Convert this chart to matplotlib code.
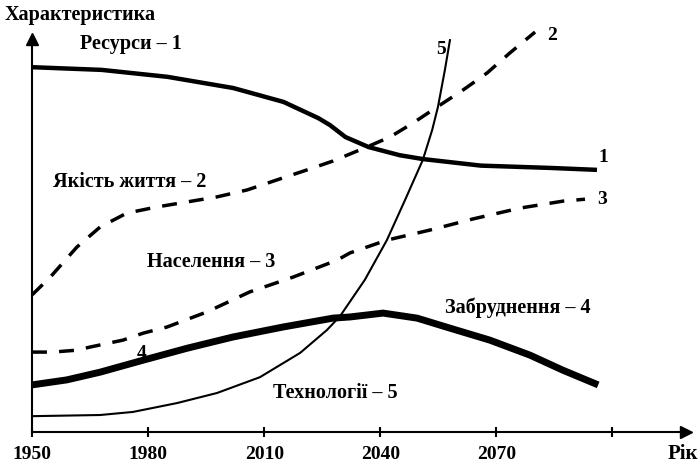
import numpy as np
import matplotlib
matplotlib.use("Agg")
import matplotlib.pyplot as plt

plt.rcParams["font.family"] = ["Liberation Serif", "DejaVu Serif"]

# ---- curves (year, characteristic in arbitrary units) ----
res_years = [1950, 1968, 1985, 2002, 2015, 2024, 2027, 2031, 2037, 2045, 2051, 2066, 2084, 2096]
res_vals = [92.7, 92.0, 90.2, 87.3, 83.7, 79.5, 77.7, 74.6, 72.0, 69.9, 68.9, 67.2, 66.6, 66.1]

life_years = [1950, 1954.7, 1961.6, 1967.6, 1974.5, 1982.3, 1990.1, 1997.8, 2005.6, 2013.3,
              2021.1, 2027.8, 2036.0, 2042.5, 2048.4, 2054.7, 2061.4, 2067.6, 2073.5, 2080.0]
life_vals = [33.7, 38.3, 46.1, 51.3, 54.9, 56.5, 57.8, 59.1, 60.9, 63.5,
             66.1, 68.4, 71.8, 74.6, 78.2, 82.4, 86.8, 91.2, 96.4, 101.8]

pop_years = [1950, 1955.4, 1961.6, 1965.0, 1973.5, 1978.7, 1984.9, 1995.2, 2006.3, 2017.4,
             2028.8, 2032.2, 2041.7, 2052.8, 2064.0, 2076.1, 2087.2, 2092.9]
pop_vals = [18.9, 18.9, 19.4, 20.2, 22.0, 23.8, 25.4, 29.3, 34.5, 38.3,
            42.7, 44.6, 47.9, 50.5, 53.4, 56.2, 58.0, 58.5]

pol_years = [1950, 1959.0, 1967.6, 1978.7, 1990.1, 2001.9, 2014.9, 2027.8, 2032.2, 2040.7,
             2049.5, 2058.0, 2068.3, 2078.7, 2087.2, 2096.3]
pol_vals = [10.4, 11.7, 13.7, 16.8, 19.9, 22.8, 25.4, 27.7, 28.0, 29.0,
            27.7, 25.1, 22.0, 18.1, 14.2, 10.4]

tech_years = [1950, 1967.6, 1976.1, 1987.5, 1997.8, 2008.9, 2019.3, 2026.2, 2029.6, 2036.0,
              2041.7, 2046.4, 2051.0, 2053.4, 2054.9, 2056.7, 2058.0]
tech_vals = [2.3, 2.6, 3.4, 5.7, 8.3, 12.4, 18.7, 24.6, 28.2, 37.6,
             47.9, 58.3, 68.7, 76.4, 82.4, 92.0, 99.7]

tick_years = [1950, 1980, 2010, 2040, 2070, 2100]
tick_labels = ["1950", "1980", "2010", "2040", "2070", ""]

fig = plt.figure(figsize=(6.98, 4.66), dpi=100)
# axes from x=32..686 px, y=39..432 px (from top)
ax = fig.add_axes([32 / 698, 34 / 466, 654 / 698, 393 / 466])
ax.set_xlim(1950, 2119)
ax.set_ylim(-1.8, 100)

line_kw = dict(color="k", clip_on=False, solid_joinstyle="round", dash_joinstyle="round")
ax.plot(res_years, res_vals, lw=3.2, solid_capstyle="butt", **line_kw)
ax.plot(life_years, life_vals, lw=2.5, dashes=(4.3, 3.5), **line_kw)
ax.plot(pop_years, pop_vals, lw=2.5, dashes=(4.3, 3.5), **line_kw)
ax.plot(pol_years, pol_vals, lw=5, solid_capstyle="butt", **line_kw)
ax.plot(tech_years, tech_vals, lw=1.5, **line_kw)

for s in ["top", "right"]:
    ax.spines[s].set_visible(False)
for s in ["left", "bottom"]:
    ax.spines[s].set_linewidth(1.5)
ax.plot(1, 0, ">k", ms=9, transform=ax.transAxes, clip_on=False)
ax.plot(0, 1, "^k", ms=9, transform=ax.transAxes, clip_on=False)

ax.set_yticks([])
ax.set_xticks(tick_years)
ax.set_xticklabels(tick_labels, fontsize=14, fontweight="bold")
ax.tick_params(axis="x", direction="inout", length=7, width=1.5, pad=6.5)

# text labels
fig.text(5 / 698, 1 - 15 / 466, "Характеристика", fontsize=14.5, fontweight="bold",
         va="center", ha="left")
fig.text(1, 1 - 454 / 466, "Рік", fontsize=15, fontweight="bold", va="center", ha="right")

kw = dict(fontsize=14.5, fontweight="bold", va="center", ha="left")
ax.text(1962.5, 98.8, "Ресурси – 1", **kw)
ax.text(1955.4, 63.0, "Якість життя – 2", **kw)
ax.text(1979.7, 42.2, "Населення – 3", **kw)
ax.text(2056.7, 30.3, "Забруднення – 4", **kw)
ax.text(2012.3, 8.3, "Технології – 5", **kw)

num_kw = dict(fontsize=14, fontweight="bold", va="center", ha="left")
ax.text(2096.5, 69.4, "1", **num_kw)
ax.text(2083.0, 100.8, "2", **num_kw)
ax.text(2096.0, 58.5, "3", **num_kw)
ax.text(1977.0, 18.6, "4", **num_kw)
ax.text(2054.5, 97.4, "5", **num_kw)

fig.savefig("out.png", dpi=100)
